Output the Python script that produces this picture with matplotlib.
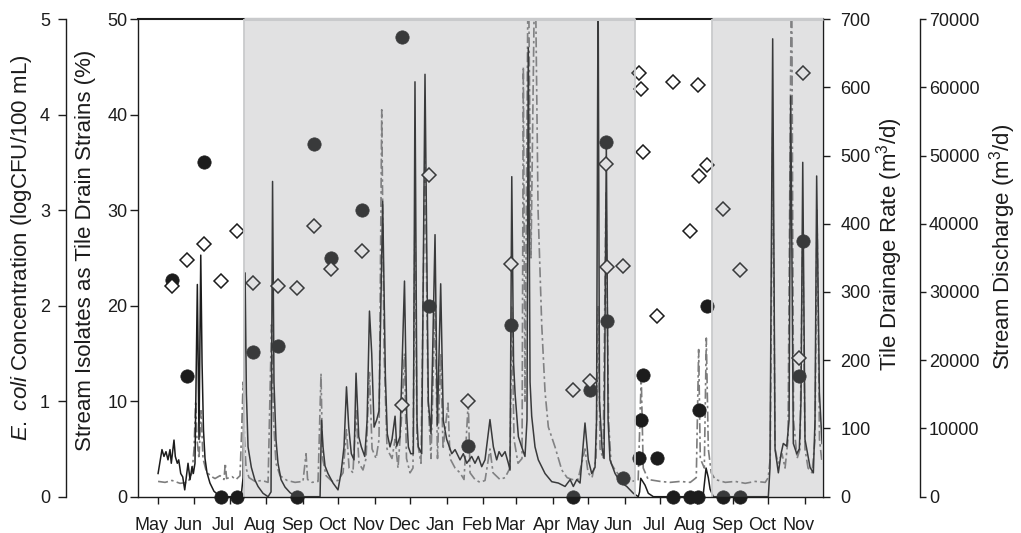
"""E. coli, stream isolates, tile drainage and stream discharge, May 2012 - Nov 2013."""

import matplotlib

matplotlib.use("Agg")
import matplotlib.dates as mdates
import matplotlib.pyplot as plt
import numpy as np
import pandas as pd
from matplotlib.transforms import ScaledTranslation

# days are counted from 1 May 2012
START = pd.Timestamp("2012-05-01")

SAMPLE_DAY = [11.9, 25.1, 39.3, 53.4, 67.0, 81.1, 102.3, 118.4, 132.3, 147.2,
              173.5, 207.5, 230.1, 263.4, 299.4, 352.5, 366.7, 380.2, 381.3, 394.4,
              408.5, 410.2, 411.4, 423.2, 437.3, 451.5, 458.5, 459.4, 465.6, 479.7,
              493.9, 544.2, 547.6]
ECOLI_LOG = [2.27, 1.26, 3.50, 0.0, 0.0, 1.51, 1.58, 0.0, 3.69, 2.50,
             3.00, 4.81, 2.00, 0.53, 1.80, 0.0, 1.12, 3.71, 1.84, 0.20,
             0.40, 0.80, 1.27, 0.40, 0.0, 0.0, 0.0, 0.91, 2.00, 0.0,
             0.0, 1.26, 2.68]
ISOLATES_PCT = [22.1, 24.8, 26.4, 22.6, 27.8, 22.4, 22.1, 21.8, 28.3, 23.8,
                25.7, 9.6, 33.7, 10.0, 24.4, 11.2, 12.1, 34.8, 24.0, 24.2,
                44.4, 42.7, 36.1, 18.9, 43.4, 27.8, 43.1, 33.6, 34.7, 30.1,
                23.7, 14.5, 44.3]

TILE_DAY = [0.3, 1.7, 3.6, 5.3, 7.0, 8.7, 10.4, 11.5, 13.8, 14.9,
            16.6, 17.8, 19.5, 21.2, 22.9, 24.6, 25.7, 27.4, 29.1, 30.2,
            31.6, 33.6, 35.0, 36.5, 37.6, 38.8, 40.1, 41.8, 44.3, 47.7,
            51.1, 54.5, 70.7, 72.4, 74.1, 75.2, 76.6, 79.4, 82.3, 85.1,
            89.3, 93.6, 96.1, 97.4, 98.6, 100.3, 102.0, 104.6, 108.0, 112.2,
            116.5, 120.7, 137.7, 138.9, 140.2, 141.9, 144.4, 148.7, 152.9, 155.5,
            158.0, 160.1, 162.0, 164.2, 166.5, 168.2, 170.5, 172.7, 175.6, 177.6,
            179.6, 181.5, 183.5, 185.8, 187.7, 190.8, 193.1, 194.7, 197.0, 198.7,
            201.3, 202.7, 205.5, 209.3, 211.2, 212.6, 214.6, 216.8, 218.2, 219.9,
            221.0, 223.9, 226.7, 229.5, 231.8, 235.2, 237.2, 240.0, 242.2, 245.1,
            249.4, 252.2, 256.4, 259.2, 262.1, 266.3, 269.1, 271.9, 274.8, 277.6,
            281.8, 284.7, 287.5, 289.5, 291.8, 294.6, 297.4, 298.8, 300.3, 301.8,
            303.1, 305.9, 308.7, 311.5, 313.2, 314.3, 315.8, 317.2, 320.0, 322.8,
            328.5, 334.2, 339.8, 345.5, 349.8, 352.5, 355.4, 358.2, 362.4, 365.2,
            368.1, 370.9, 372.2, 373.5, 374.7, 376.9, 378.6, 380.5, 382.0, 383.6,
            387.9, 392.2, 397.8, 403.4, 407.6, 408.7, 409.7, 413.3, 416.1, 420.4,
            462.5, 465.1, 467.0, 468.5, 471.3, 517.9, 519.3, 521.6, 523.6, 526.4,
            528.7, 530.6, 533.5, 535.5, 536.9, 539.1, 542.0, 544.2, 545.6, 547.1,
            549.0, 553.3, 556.1, 557.5, 558.9, 561.2, 563.5]
TILE_RATE = [34, 49, 69, 59, 66, 54, 69, 49, 83, 59,
             49, 54, 34, 29, 10, 34, 49, 25, 44, 34,
             49, 311, 84, 354, 196, 98, 56, 35, 20, 8,
             3, 0, 0, 28, 328, 151, 73, 43, 25, 15,
             5, 0, 7, 462, 168, 84, 49, 25, 14, 6,
             1, 0, 0, 112, 73, 45, 34, 20, 10, 35,
             73, 161, 102, 63, 54, 181, 88, 73, 59, 112,
             272, 210, 102, 113, 126, 433, 176, 92, 73, 84,
             118, 74, 88, 316, 118, 73, 63, 63, 608, 112,
             73, 63, 619, 140, 92, 384, 105, 312, 112, 84,
             63, 69, 54, 63, 49, 59, 49, 59, 44, 54,
             113, 73, 54, 66, 59, 66, 49, 39, 469, 196,
             151, 88, 73, 59, 112, 658, 168, 118, 73, 54,
             34, 22, 20, 15, 25, 15, 25, 20, 108, 54,
             34, 43, 112, 770, 140, 70, 56, 518, 112, 54,
             34, 22, 15, 5, 0, 7, 27, 17, 5, 0,
             0, 42, 28, 11, 0, 0, 42, 671, 70, 35,
             63, 78, 74, 112, 587, 78, 63, 70, 140, 490,
             84, 43, 35, 112, 470, 153, 78]

STREAM_DAY = [0.3, 6.2, 12.1, 18.9, 25.7, 29.1, 30.8, 32.2, 33.3, 35.0,
              36.7, 38.4, 40.9, 44.3, 48.6, 52.8, 56.2, 57.3, 58.4, 63.0,
              66.4, 69.8, 71.2, 72.4, 73.6, 74.9, 77.4, 82.5, 88.5, 93.6,
              96.5, 98.2, 100.3, 103.7, 109.7, 116.5, 123.2, 125.8, 127.1, 130.9,
              136.0, 138.5, 139.8, 142.8, 147.9, 152.9, 157.2, 160.1, 162.3, 165.6,
              168.2, 170.7, 174.1, 176.7, 179.6, 181.8, 185.2, 187.7, 190.0, 192.0,
              194.5, 198.7, 201.3, 203.8, 207.2, 209.3, 211.0, 214.0, 216.5, 218.2,
              219.9, 223.3, 226.7, 229.3, 231.8, 235.2, 237.3, 240.0, 242.0, 246.2,
              247.9, 252.2, 256.4, 259.8, 263.4, 264.9, 269.1, 273.4, 277.6, 281.8,
              284.4, 290.3, 294.6, 298.8, 300.3, 302.2, 305.6, 309.0, 310.1, 311.5,
              314.3, 316.6, 320.0, 322.6, 325.7, 328.5, 331.3, 337.0, 342.7, 347.2,
              351.4, 356.5, 362.4, 365.0, 368.4, 371.8, 373.5, 375.2, 377.8, 380.2,
              382.4, 384.5, 387.9, 392.2, 400.7, 407.5, 410.1, 411.8, 416.0, 426.2,
              434.7, 443.2, 451.7, 456.8, 458.8, 460.2, 463.6, 465.3, 467.0, 469.5,
              472.9, 481.4, 489.8, 498.3, 506.8, 515.3, 517.8, 519.5, 521.6, 523.6,
              526.1, 529.5, 532.1, 534.6, 537.6, 539.3, 542.3, 544.8, 547.1, 549.0,
              551.6, 555.0, 557.5, 559.2, 561.3, 563.5]
STREAM_Q = [2240, 2100, 2380, 1960, 2100, 3500, 7000, 14000, 8400, 5600,
            12600, 5600, 3920, 3080, 2660, 3080, 2520, 4900, 2660, 2940,
            2520, 3080, 9800, 16800, 8400, 4200, 2800, 2240, 2380, 2100,
            25200, 11200, 4900, 3080, 2380, 2100, 2240, 6300, 2520, 2100,
            2240, 18060, 5600, 3080, 2240, 2380, 3500, 9800, 4200, 3500,
            12600, 4900, 3920, 5600, 18200, 7000, 5600, 8400, 56700, 21000,
            7000, 5600, 8400, 4200, 12600, 21000, 5600, 3500, 4200, 42000,
            8400, 4900, 50400, 14000, 5600, 28000, 5600, 21000, 7000, 13720,
            5600, 4200, 3500, 2520, 14000, 3500, 2520, 2100, 2380, 7000,
            3500, 2520, 2800, 4200, 28000, 8400, 4900, 5600, 63000, 14000,
            81200, 35000, 81200, 42000, 25200, 15400, 10220, 7280, 3920, 2800,
            2520, 2520, 7000, 3500, 2800, 5600, 28000, 7000, 5600, 44800,
            11200, 4900, 3920, 2940, 2240, 2380, 17640, 4200, 2520, 2240,
            2100, 2240, 2100, 2800, 21560, 5600, 4200, 23240, 7000, 3500,
            2520, 2100, 2240, 1960, 2240, 2100, 2800, 5600, 53200, 7000,
            4900, 6300, 4200, 8400, 81200, 11200, 5600, 7000, 39200, 7000,
            4200, 3500, 8400, 42000, 8400, 4900]

SHADED_PERIODS = [("2012-07-13", "2013-06-10"), ("2013-08-14", "2013-11-16")]
MONTHS = pd.date_range("2012-05-01", "2013-11-01", freq="MS")

BLACK = "#1c1c1c"
SHADE = (0.553, 0.56, 0.58, 0.264)
SHADE_EDGE = "#c9cacc"


def day_num(days):
    return mdates.date2num(START) + np.asarray(days, dtype=float)


def main():
    plt.rcParams["font.family"] = ["Liberation Sans", "DejaVu Sans"]
    plt.rcParams["mathtext.fontset"] = "custom"
    plt.rcParams["mathtext.rm"] = "Liberation Sans"
    plt.rcParams["mathtext.it"] = "Liberation Sans:italic"

    fig = plt.figure(figsize=(10.21, 5.33), dpi=100)
    ax = fig.add_axes([0.1352, 0.0681, 0.6709, 0.8962])
    ax_q = ax.twinx()
    ax_t = ax.twinx()
    ax_e = ax.twinx()
    for z, a in enumerate([ax_q, ax_t, ax_e, ax], start=1):
        a.set_zorder(z)
        a.patch.set_visible(False)

    # stream discharge (grey dash-dot) and tile drainage (black)
    ax_q.plot(day_num(STREAM_DAY), STREAM_Q, color="#7d7d7d", lw=1.2,
              linestyle=(0, (6, 2, 1.5, 2)))
    ax_t.plot(day_num(TILE_DAY), TILE_RATE, color=BLACK, lw=1.1)

    ax_e.plot(day_num(SAMPLE_DAY), ECOLI_LOG, "o", ms=9.6, color=BLACK,
              mec=BLACK, mew=0.5, clip_on=False)
    ax.plot(day_num(SAMPLE_DAY), ISOLATES_PCT, "D", ms=7.3, mfc="white",
            mec=BLACK, mew=1.1, clip_on=False)

    for start, end in SHADED_PERIODS:
        x0, x1 = mdates.date2num(pd.Timestamp(start)), mdates.date2num(pd.Timestamp(end))
        ax.axvspan(x0, x1, facecolor=SHADE, edgecolor="none", zorder=3)
        ax.hlines(1, x0, x1, transform=ax.get_xaxis_transform(), color=SHADE_EDGE,
                  lw=2.2, zorder=3.5, clip_on=False)
        for x in (x0, x1):
            ax.axvline(x, color=SHADE_EDGE, lw=1.3, zorder=3.2)

    ax.set_xlim(day_num([-16.7, 564.3]))
    ax.set_ylim(0, 50)
    ax_e.set_ylim(0, 5)
    ax_t.set_ylim(0, 700)
    ax_q.set_ylim(0, 70000)

    ax.set_xticks(mdates.date2num(MONTHS.to_pydatetime()))
    ax.set_xticklabels([m.strftime("%b") for m in MONTHS])
    ax.set_yticks(range(0, 51, 10))
    ax_e.set_yticks(range(0, 6))
    ax_t.set_yticks(range(0, 701, 100))
    ax_q.set_yticks(range(0, 70001, 10000))

    for a in (ax_q, ax_t, ax_e):
        for side in ("top", "bottom", "left", "right"):
            a.spines[side].set_visible(False)
    ax.spines["right"].set_visible(False)
    ax_t.spines["right"].set_visible(True)
    ax_q.spines["right"].set_visible(True)
    ax_q.spines["right"].set_position(("outward", 70))
    ax_e.spines["left"].set_visible(True)
    ax_e.spines["left"].set_position(("outward", 52))
    ax_e.yaxis.set_ticks_position("left")
    ax.spines["bottom"].set_zorder(5)
    for a in (ax, ax_q, ax_t, ax_e):
        for sp in a.spines.values():
            sp.set_linewidth(1.0)
            sp.set_color(BLACK)
    ax.spines["top"].set_linewidth(1.5)

    ax.tick_params(axis="x", direction="out", length=5, width=1, pad=9.5,
                   labelsize=13, colors=BLACK)
    ax.tick_params(axis="y", direction="out", length=6, width=1, pad=1.5,
                   labelsize=13, colors=BLACK)
    ax_e.tick_params(axis="y", direction="out", length=5.8, width=1, pad=5.5,
                     labelsize=13, colors=BLACK)
    ax_t.tick_params(axis="y", direction="out", length=5, width=1, pad=7.5,
                     labelsize=13, colors=BLACK)
    ax_q.tick_params(axis="y", direction="out", length=4.3, width=1, pad=2,
                     labelsize=13, colors=BLACK)

    # month names sit a little left of their ticks
    shift = ScaledTranslation(-0.06, 0, fig.dpi_scale_trans)
    for lbl in ax.get_xticklabels():
        lbl.set_transform(lbl.get_transform() + shift)

    label_kw = dict(rotation=90, ha="center", va="center", fontsize=16, color=BLACK)
    fig.text(0.0215, 0.535, r"$\it{E.\ coli}$ Concentration (logCFU/100 mL)", **label_kw)
    fig.text(0.0842, 0.531, "Stream Isolates as Tile Drain Strains (%)", **label_kw)
    fig.text(0.8717, 0.542, r"Tile Drainage Rate (m$^{3}$/d)", **label_kw)
    fig.text(0.9815, 0.537, r"Stream Discharge (m$^{3}$/d)", **label_kw)

    fig.savefig("out.png", dpi=100, facecolor="white")
    plt.close(fig)


if __name__ == "__main__":
    main()
